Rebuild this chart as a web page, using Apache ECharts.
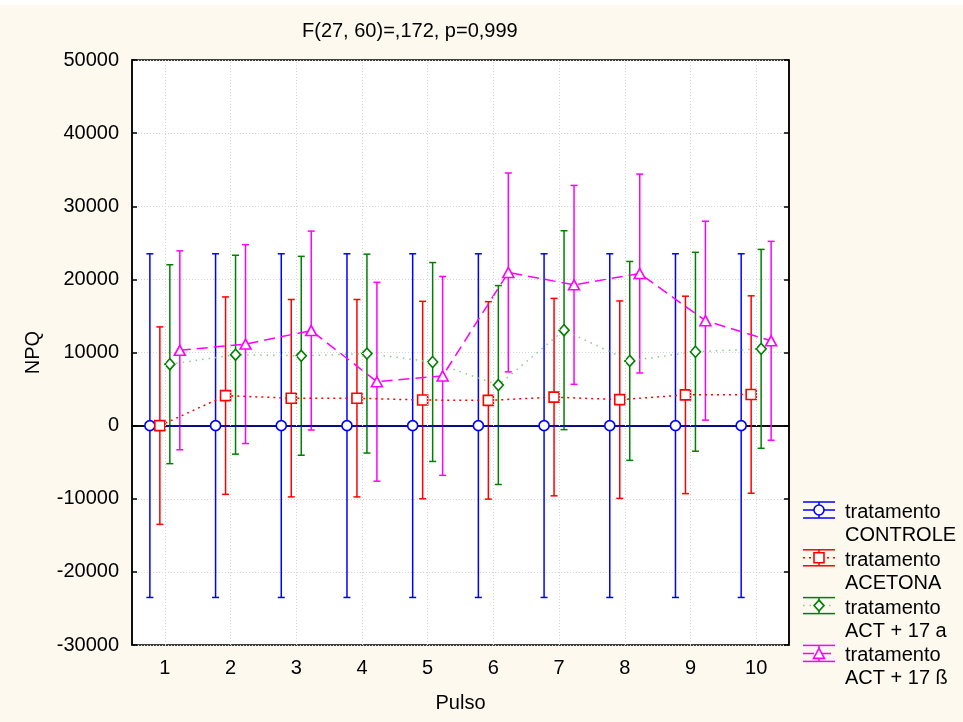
<!DOCTYPE html>
<html>
<head>
<meta charset="utf-8">
<title>NPQ por pulso</title>
<script src="https://cdn.jsdelivr.net/npm/echarts@6/dist/echarts.min.js"></script>
<style>
  html, body { margin: 0; padding: 0; background: #fdf9ef; }
  #chart { width: 963px; height: 722px; }
</style>
</head>
<body>
<div id="chart"></div>
<script>
// Pulse numbers on the horizontal axis
const pulses = ['1', '2', '3', '4', '5', '6', '7', '8', '9', '10'];

// Means per treatment
const controle = [0, 0, 0, 0, 0, 0, 0, 0, 0, 0];
const acetona  = [0, 4100, 3750, 3750, 3500, 3450, 3900, 3550, 4200, 4250];
const act17a   = [8400, 9700, 9550, 9850, 8700, 5550, 13050, 8850, 10100, 10500];
const act17b   = [10300, 11150, 13000, 6000, 6800, 20950, 19250, 20800, 14350, 11600];

// Half-widths of the confidence intervals
const controleErr = [23500, 23500, 23500, 23500, 23500, 23500, 23500, 23500, 23500, 23500];
const acetonaErr  = [13500, 13500, 13500, 13500, 13500, 13500, 13500, 13500, 13500, 13500];
const act17aErr   = [13600, 13600, 13600, 13600, 13600, 13600, 13600, 13600, 13600, 13600];
const act17bErr   = [13600, 13600, 13600, 13600, 13600, 13600, 13600, 13600, 13600, 13600];

// Y axis range and step
const yMin = -30000, yMax = 50000, yStep = 10000;

const FONT = "'Liberation Sans', Arial, sans-serif";

// Treatment definitions (means, errors, style)
const groups = [
  { name: 'tratamento\nCONTROLE', means: controle, errs: controleErr, color: '#0000ff',
    lineColor: '#0000ff', dash: 'solid', symbol: 'circle', size: 10, dodge: -0.228 },
  { name: 'tratamento\nACETONA', means: acetona, errs: acetonaErr, color: '#ff0000',
    lineColor: '#ff0000', dash: [2, 4], symbol: 'rect', size: 10, dodge: -0.076 },
  { name: 'tratamento\nACT + 17 a', means: act17a, errs: act17aErr, color: '#008000',
    lineColor: '#8cc88c', dash: [1.5, 5], symbol: 'diamond', size: [10, 11], dodge: 0.076 },
  { name: 'tratamento\nACT + 17 ß', means: act17b, errs: act17bErr, color: '#ff00ff',
    lineColor: '#ff00ff', dash: [11, 6], symbol: 'triangle', size: [11, 10], dodge: 0.228 }
];

const series = [];

// Error bars: vertical line with caps
groups.forEach(g => {
  series.push({
    type: 'custom',
    xAxisIndex: 2,
    yAxisIndex: 0,
    z: 2,
    silent: true,
    data: g.means.map((m, i) => [i + 1 + g.dodge, m - g.errs[i], m + g.errs[i]]),
    encode: { x: 0, y: [1, 2] },
    renderItem: function (params, api) {
      const x = api.value(0);
      const lo = api.coord([x, api.value(1)]);
      const hi = api.coord([x, api.value(2)]);
      const cap = 3.5;
      const st = { stroke: g.color, lineWidth: 1.5 };
      return {
        type: 'group',
        children: [
          { type: 'line', shape: { x1: lo[0], y1: lo[1], x2: hi[0], y2: hi[1] }, style: st },
          { type: 'line', shape: { x1: hi[0] - cap, y1: hi[1], x2: hi[0] + cap, y2: hi[1] }, style: st },
          { type: 'line', shape: { x1: lo[0] - cap, y1: lo[1], x2: lo[0] + cap, y2: lo[1] }, style: st }
        ]
      };
    }
  });
});

// Mean lines with open markers
groups.forEach(g => {
  series.push({
    type: 'line',
    xAxisIndex: 2,
    yAxisIndex: 0,
    z: 3,
    silent: true,
    data: g.means.map((m, i) => [i + 1 + g.dodge, m]),
    symbol: g.symbol,
    symbolSize: g.size,
    showSymbol: true,
    showAllSymbol: true,
    lineStyle: { color: g.lineColor, width: 1.5, type: g.dash },
    itemStyle: { color: '#ffffff', borderColor: g.color, borderWidth: 1.6 }
  });
});

// Vertical dotted grid lines at each pulse
series.push({
  type: 'line',
  xAxisIndex: 2,
  yAxisIndex: 0,
  data: [],
  z: 1,
  markLine: {
    silent: true,
    symbol: ['none', 'none'],
    label: { show: false },
    lineStyle: { color: '#d4d4d4', type: [1, 2], width: 1 },
    data: pulses.map((p, i) => ({ xAxis: i + 1 }))
  }
});

// Legend: error-bar glyph + two-line label per treatment
const legendGraphics = [];
const lgX0 = 803, lgX1 = 835, lgCx = 819, lgTop = 502, lgStep = 47.8, lgH = 16;
groups.forEach((g, k) => {
  const top = lgTop + k * lgStep;
  const mid = top + lgH / 2;
  const st = { stroke: g.color, lineWidth: 1.5 };
  legendGraphics.push(
    { type: 'line', shape: { x1: lgX0, y1: top, x2: lgX1, y2: top }, style: st },
    { type: 'line', shape: { x1: lgX0, y1: top + lgH, x2: lgX1, y2: top + lgH }, style: st },
    { type: 'line', shape: { x1: lgCx, y1: top, x2: lgCx, y2: top + lgH }, style: st },
    { type: 'line', shape: { x1: lgX0, y1: mid, x2: lgX1, y2: mid },
      style: { stroke: g.lineColor, lineWidth: 1.5, lineDash: g.dash === 'solid' ? null : g.dash } }
  );
  const mk = { fill: '#ffffff', stroke: g.color, lineWidth: 1.6 };
  if (g.symbol === 'circle') {
    legendGraphics.push({ type: 'circle', shape: { cx: lgCx, cy: mid, r: 5 }, style: mk });
  } else if (g.symbol === 'rect') {
    legendGraphics.push({ type: 'rect', shape: { x: lgCx - 5, y: mid - 5, width: 10, height: 10 }, style: mk });
  } else if (g.symbol === 'diamond') {
    legendGraphics.push({ type: 'polygon',
      shape: { points: [[lgCx, mid - 5.5], [lgCx + 5, mid], [lgCx, mid + 5.5], [lgCx - 5, mid]] }, style: mk });
  } else {
    legendGraphics.push({ type: 'polygon',
      shape: { points: [[lgCx, mid - 5], [lgCx + 5.5, mid + 5], [lgCx - 5.5, mid + 5]] }, style: mk });
  }
  legendGraphics.push({
    type: 'text',
    style: { text: g.name, x: 845, y: top - 1, fill: '#000', font: '20px ' + FONT,
             lineHeight: 23, verticalAlign: 'top' }
  });
});

const axisLineStyle = { color: '#000', width: 1.5 };
const tickStyle = { inside: true, length: 5, lineStyle: { color: '#000', width: 1.5 } };

const option = {
  animation: false,
  backgroundColor: '#fdf9ef',
  title: {
    text: 'F(27, 60)=,172, p=0,999',
    left: 297,
    top: 16,
    textStyle: { fontSize: 20, fontWeight: 'normal', color: '#000', fontFamily: FONT }
  },
  grid: {
    left: 132, right: 174, top: 60, bottom: 77,
    show: true, backgroundColor: '#ffffff', borderColor: '#000', borderWidth: 1.5
  },
  xAxis: [
    {
      type: 'category', data: pulses, position: 'bottom', boundaryGap: true,
      axisLine: { lineStyle: axisLineStyle },
      axisTick: Object.assign({ alignWithLabel: true }, tickStyle),
      axisLabel: { fontSize: 20, color: '#000', margin: 13, fontFamily: FONT },
      splitLine: { show: false },
      name: 'Pulso', nameLocation: 'middle', nameGap: 48,
      nameTextStyle: { fontSize: 20, color: '#000', fontFamily: FONT }
    },
    {
      type: 'category', data: pulses, position: 'top', boundaryGap: true,
      axisLine: { lineStyle: axisLineStyle },
      axisTick: Object.assign({ alignWithLabel: true }, tickStyle),
      axisLabel: { show: false },
      splitLine: { show: false }
    },
    { type: 'value', min: 0.5, max: 10.5, show: false, position: 'bottom' }
  ],
  yAxis: [
    {
      type: 'value', min: yMin, max: yMax, interval: yStep, position: 'left',
      axisLine: { show: true, lineStyle: axisLineStyle },
      axisTick: tickStyle,
      axisLabel: { fontSize: 20, color: '#000', margin: 13, fontFamily: FONT,
                   formatter: v => String(v) },
      splitLine: { show: true, lineStyle: { color: '#d4d4d4', type: [1, 2], width: 1 } },
      name: 'NPQ', nameLocation: 'middle', nameGap: 89, nameRotate: 90,
      nameTextStyle: { fontSize: 20, color: '#000', fontFamily: FONT }
    },
    {
      type: 'value', min: yMin, max: yMax, interval: yStep, position: 'right',
      axisLine: { show: true, lineStyle: axisLineStyle },
      axisTick: tickStyle,
      axisLabel: { show: false },
      splitLine: { show: false }
    }
  ],
  graphic: [
    { type: 'rect', shape: { x: 0, y: 0, width: 963, height: 5 }, style: { fill: '#ffffff' }, silent: true }
  ].concat(legendGraphics),
  series: series
};

const chart = echarts.init(document.getElementById('chart'), null, { renderer: 'canvas' });
chart.setOption(option);
</script>
</body>
</html>
